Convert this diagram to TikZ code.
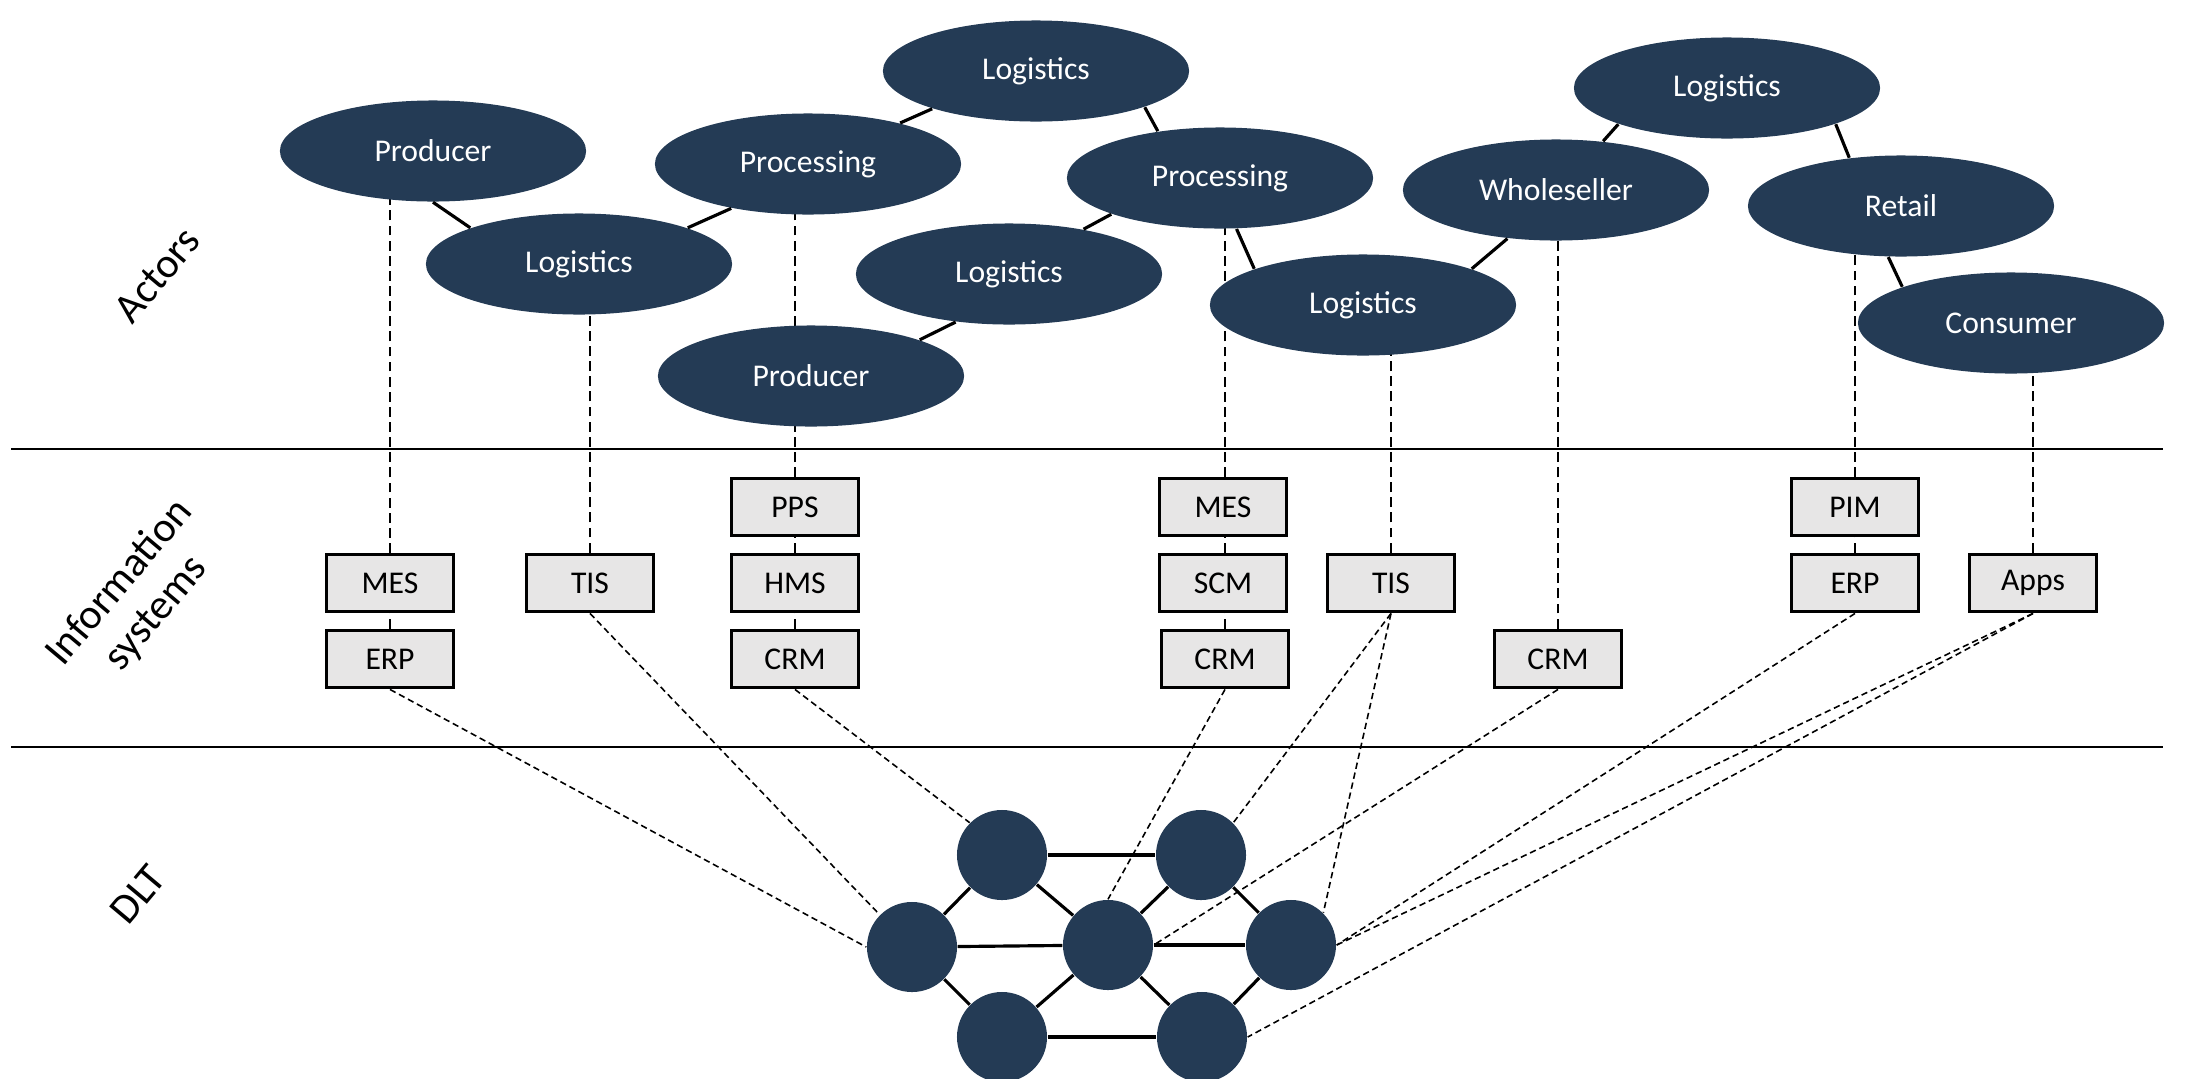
\documentclass[tikz,border=0pt]{standalone}
\usepackage{fontspec}
\setmainfont{Carlito}
\usetikzlibrary{shapes.geometric,backgrounds}
\definecolor{navy}{HTML}{243B55}
\definecolor{boxgray}{HTML}{E7E6E6}
\tikzset{
    actor/.style={ellipse,fill=navy,text=white,minimum width=3.06cm,
      minimum height=1.01cm,inner sep=0pt,font=\fontsize{9}{11}\selectfont},
    system/.style={draw,line width=1.1pt,fill=boxgray,minimum width=1.27cm,
      minimum height=0.57cm,inner sep=0pt,font=\fontsize{9}{11}\selectfont},
    ledger/.style={circle,fill=navy,minimum size=0.9cm,inner sep=0pt},
    layer/.style={rotate=50,align=center,font=\fontsize{12}{13.5}\selectfont},
    tie/.style={line width=0.5pt,dash pattern=on 2.8pt off 1.5pt},
    link/.style={line width=0.45pt,dash pattern=on 1.8pt off 1.1pt},
    solid edge/.style={line width=0.9pt}
}

\begin{document}
\begin{tikzpicture}[x=0.01cm,y=-0.01cm]
    \useasboundingbox (0,0) rectangle (2190,1078);
    \draw[line width=0.7pt] (11,449) -- (2163,449);
    \draw[line width=0.7pt] (11,747) -- (2163,747);
    \node[layer] (actors) at (157,275) {Actors};
    \node[layer] (infosys) at (138,598) {Information\\systems};
    \node[layer] (dlt) at (138,894) {DLT};
    \foreach \nm/\x/\y/\txt in {prodA/433/151/Producer, logA/579/264/Logistics,
      procA/808/164/Processing, logB/1036/71/Logistics, procB/1220/178/Processing,
      logC/1009/274/Logistics, prodB/811/376/Producer, logD/1363/305/Logistics,
      whole/1556/190/Wholeseller, logE/1727/88/Logistics, retail/1901/206/Retail,
      consumer/2011/323/Consumer} {
      \node[actor] (\nm) at (\x,\y) {\txt};
    }
    \foreach \nm/\x/\y/\txt in {mesA/390/583/MES, erpA/390/659/ERP, tisA/590/583/TIS,
      pps/795/507/PPS, hms/795/583/HMS, crmA/795/659/CRM, mesB/1223/507/MES,
      scm/1223/583/SCM, crmB/1225/659/CRM, tisB/1391/583/TIS, crmC/1558/659/CRM,
      pim/1855/507/PIM, erpB/1855/583/ERP, apps/2033/583/Apps} {
      \node[system] (\nm) at (\x,\y) {\txt};
    }
    \foreach \nm/\x/\y in {n1/1002/855, n2/1201/855, m1/912/947, m2/1108/945,
      m3/1291/945, b1/1002/1037, b2/1202/1037} {
      \node[ledger] (\nm) at (\x,\y) {};
    }
    \foreach \a/\b in {prodA.south/logA.north west, logA.north east/procA.210,
      procA.24/logB.200, logB.south east/procB.143, procB.south west/logC.31,
      logC.222/prodB.north east, procB.288/logD.north west,
      logD.north east/whole.225, whole.46/logE.south west,
      logE.south east/retail.137, retail.256/consumer.north west} {
      \draw[solid edge] (\a) -- (\b);
    }
    \foreach \a/\b in {n1/n2, m1/m2, m2/m3, b1/b2, n1/m1, m1/b1, n1/m2, m2/b1,
      n2/m2, n2/m3, m2/b2, m3/b2} {
      \draw[solid edge] (\a) -- (\b);
    }
    \begin{scope}[on background layer]
      \foreach \bx/\ac in {erpA/prodA, tisA/logA, crmA/procA, crmB/procB,
        tisB/logD, crmC/whole, erpB/retail, apps/consumer} {
        \draw[tie] (\bx.north) -- (\bx.north |- \ac.center);
      }
    \end{scope}
    \foreach \bx/\nd in {erpA/m1.west, tisA/m1.north west, crmA/n1.north west,
      crmB/m2.north, tisB/n2.north east, tisB/m3.north east, crmC/m2.east,
      erpB/m3.east, apps/m3.east, apps/b2.east} {
      \draw[link] (\bx.south) -- (\nd);
    }
  \end{tikzpicture}
\end{document}
